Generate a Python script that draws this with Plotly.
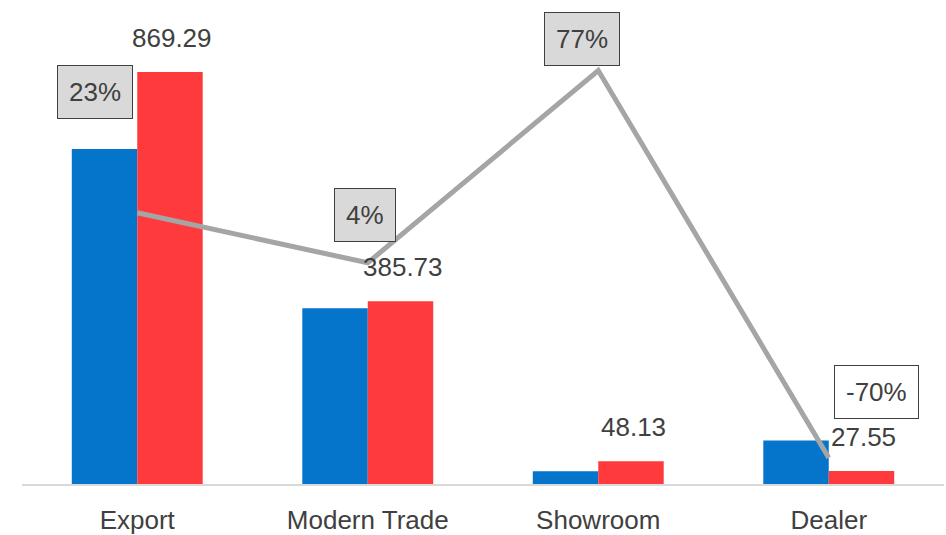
import plotly.graph_objects as go

categories = ["Export", "Modern Trade", "Showroom", "Dealer"]
prev_values = [707, 371, 27, 92]
curr_values = [869.29, 385.73, 48.13, 27.55]
growth = [0.23, 0.04, 0.77, -0.70]
growth_labels = ["23%", "4%", "77%", "-70%"]
value_labels = ["869.29", "385.73", "48.13", "27.55"]

FONT = "Liberation Sans, Arial, sans-serif"
TXT = "#404040"

fig = go.Figure()
fig.add_trace(go.Bar(x=categories, y=prev_values, marker_color="#0575cb",
                     marker_line=dict(width=0), name="Prev"))
fig.add_trace(go.Bar(x=categories, y=curr_values, marker_color="#ff3a3c",
                     marker_line=dict(width=0), name="Curr"))
fig.add_trace(go.Scatter(x=categories, y=growth, yaxis="y2", mode="lines",
                         line=dict(color="#a5a5a5", width=5), name="Growth"))

# value labels above red bars
for c, v, t in zip(categories, curr_values, value_labels):
    fig.add_annotation(x=c, y=v, text=t, showarrow=False, xanchor="center", yanchor="middle",
                       xshift=35, yshift=34, font=dict(family=FONT, size=26, color=TXT))

# growth labels in boxes
offsets = [(-42, 121), (-3, 48), (-16, 31.5), (48, 65.5)]
fills = ["#d9d9d9", "#d9d9d9", "#d9d9d9", "#ffffff"]
for c, g, t, (dx, dy), f in zip(categories, growth, growth_labels, offsets, fills):
    fig.add_annotation(x=c, y=g, yref="y2", text=t, showarrow=False, xanchor="center",
                       yanchor="middle", xshift=dx, yshift=dy,
                       font=dict(family=FONT, size=26, color=TXT),
                       bgcolor=f, bordercolor="#404040", borderwidth=1, borderpad=11)

fig.update_layout(
    width=946, height=535,
    margin=dict(l=22, r=2, t=10, b=51, autoexpand=False),
    paper_bgcolor="white", plot_bgcolor="white",
    barmode="group", bargap=0.432, bargroupgap=0,
    showlegend=False,
    font=dict(family=FONT, size=26, color=TXT),
    xaxis=dict(showline=True, linecolor="#d9d9d9", linewidth=2, showgrid=False, automargin=False,
               ticks="", tickfont=dict(family=FONT, size=26, color=TXT), ticklabelstandoff=12),
    yaxis=dict(range=[0, 1000], visible=False, showgrid=False, automargin=False),
    yaxis2=dict(range=[-0.8, 1.0], overlaying="y", visible=False, showgrid=False, automargin=False),
)

fig.write_html("out.html")
